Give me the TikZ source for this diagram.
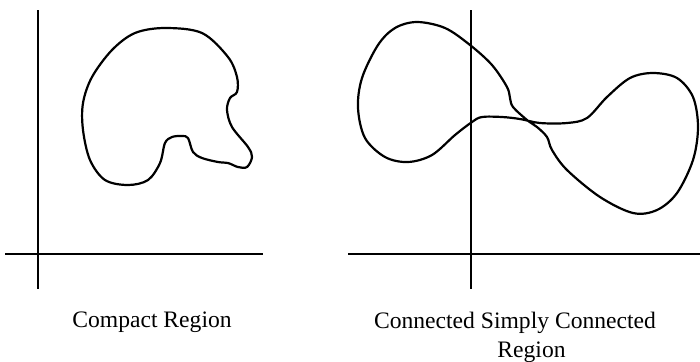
\documentclass[tikz,border=0pt]{standalone}
\usepackage{fontspec}
\setmainfont{Liberation Serif}
\usepackage{tikz}

\begin{document}
\begin{tikzpicture}[x=0.5bp, y=-0.5bp,
    axis/.style={line width=1bp},
    region/.style={line width=1.1bp, line join=round},
    caption/.style={font=\fontsize{11.8bp}{14.5bp}\selectfont, align=center, inner sep=0pt}]
    \useasboundingbox (0,0) rectangle (700,361);

    % left: compact region
    \draw[axis] (38,10) -- (38,289);
    \draw[axis] (5,254) -- (263,254);
    \draw[region] plot[smooth cycle, tension=0.55] coordinates {
        (165,28) (202,33) (228,57) (237,77) (237,92) (230,98) (227,110)
        (232,127) (248,147) (252,157) (247,167) (238,167) (228,163)
        (218,162) (202,158) (193,152) (188,138) (182,136) (172,137)
        (165,143) (160,163) (148,180) (128,185) (105,180) (90,160)
        (83,130) (83,103) (92,77) (112,50) (135,33)};

    % right: connected, simply connected region
    \draw[axis, line width=0.8bp] (471,10) -- (471,289);
    \draw[axis, line width=0.8bp] (348,254) -- (700,254);
    \draw[region] plot[smooth cycle, tension=0.55] coordinates {
        (417,22) (445,28) (470,45) (492,65) (507,87) (510,98) (513,107)
        (527,120) (537,127) (547,137) (552,150) (567,170) (600,197)
        (633,213) (657,210) (677,193) (693,160) (698,127) (693,97)
        (677,78) (653,73) (630,78) (607,97) (587,118) (567,123)
        (540,123) (520,119) (502,117) (482,117) (472,122) (455,135)
        (432,155) (408,162) (385,157) (365,138) (358,108) (362,78)
        (378,45) (395,28)};

    \node[caption, anchor=base] (compact) at (152,327) {Compact Region};
    \node[caption, anchor=base] (connected) at (515,357)
        {Connected Simply Connected\\\hspace*{1.4em}Region};
\end{tikzpicture}
\end{document}
